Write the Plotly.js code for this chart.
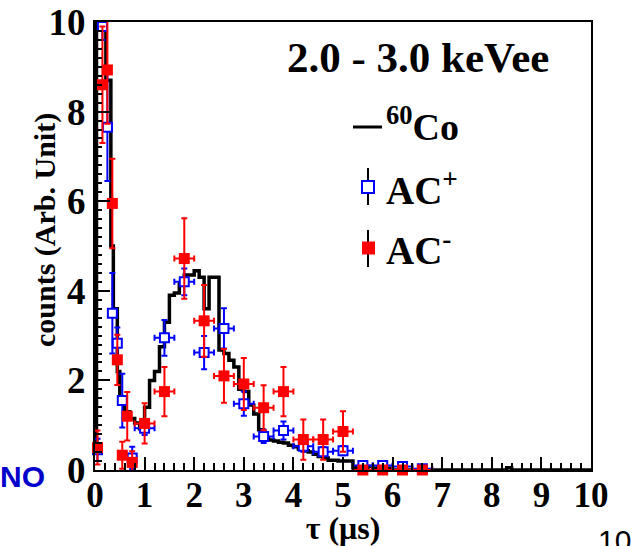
<!DOCTYPE html>
<html>
<head>
<meta charset="utf-8">
<script src="https://cdn.plot.ly/plotly-3.0.1.min.js"></script>
<style>html,body{margin:0;padding:0;background:#fff;}#chart{width:633px;height:546px;}</style>
</head>
<body>
<div id="chart"></div>
<script>
// ---- 60Co reference histogram (bin edges, counts per bin) ----
const histEdges = [0, 0.03, 0.12, 0.22, 0.32, 0.37, 0.45, 0.5, 0.6, 0.7, 0.8, 0.9, 1.0, 1.1, 1.2, 1.3, 1.4, 1.5, 1.6, 1.7, 1.8, 1.9, 2.0, 2.1, 2.2, 2.3, 2.4, 2.5, 2.6, 2.7, 2.8, 2.9, 3.0, 3.1, 3.2, 3.3, 3.4, 3.5, 3.6, 3.7, 3.8, 3.9, 4.0, 4.1, 4.2, 4.3, 4.4, 4.5, 4.6, 4.7, 4.8, 4.9, 5.0, 5.1, 5.2, 5.3, 5.4, 5.5, 5.6, 5.7, 5.8, 5.9, 6.0, 8.3, 8.4, 10];
const histCounts = [0.4, 12, 10.5, 8.7, 5.0, 3.6, 2.2, 1.5, 1.3, 1.15, 1.05, 0.92, 1.4, 2.0, 2.2, 2.75, 3.3, 3.9, 3.95, 4.15, 4.35, 4.35, 4.45, 4.3, 3.6, 4.3, 4.3, 2.68, 2.6, 2.45, 2.3, 1.8, 1.75, 1.45, 1.25, 0.9, 0.72, 0.67, 0.65, 0.62, 0.6, 0.55, 0.52, 0.47, 0.43, 0.4, 0.35, 0.3, 0.27, 0.22, 0.22, 0.2, 0.2, 0.2, 0.05, 0.08, 0.03, 0.08, 0.04, 0.06, 0.03, 0.04, 0, 0.05, 0];

// ---- AC+ (blue open squares) ----
const acPlusTau      = [0.05, 0.15, 0.25, 0.35, 0.45, 0.55, 0.75, 1.0, 1.4, 1.8, 2.2, 2.6, 3.0, 3.4, 3.8, 4.2, 4.6, 5.0, 5.4, 5.8, 6.2, 6.6];
const acPlusCounts   = [0.45, 9.9, 7.65, 3.5, 2.83, 1.55, 0.27, 0.93, 2.95, 4.2, 2.62, 3.16, 1.48, 0.75, 0.88, 0.53, 0.41, 0.43, 0.1, 0.1, 0.08, 0.03];
const acPlusErr      = [0.25, 0.3, 1.2, 0.9, 0.35, 0.6, 0.25, 0.15, 0.4, 0.3, 0.37, 0.45, 0.27, 0.15, 0.2, 0.12, 0.1, 0.1, 0.05, 0.05, 0.05, 0.03];
const acPlusTauErr   = [0.05, 0.05, 0.05, 0.05, 0.05, 0.05, 0.05, 0.2, 0.2, 0.2, 0.2, 0.2, 0.2, 0.2, 0.2, 0.2, 0.2, 0.2, 0.2, 0.2, 0.2, 0.2];

// ---- AC- (red filled squares) ----
const acMinusTau     = [0.05, 0.15, 0.25, 0.35, 0.45, 0.55, 0.65, 0.75, 1.0, 1.4, 1.8, 2.2, 2.6, 3.0, 3.4, 3.8, 4.2, 4.6, 5.0, 5.4, 5.8, 6.2, 6.6];
const acMinusCounts  = [0.5, 8.6, 8.93, 5.95, 2.46, 0.33, 1.2, 0.17, 1.04, 1.75, 4.72, 3.33, 2.1, 1.92, 1.39, 1.75, 0.68, 0.68, 0.86, 0, 0, 0, 0];
const acMinusErr     = [0.38, 1.3, 1.2, 1.0, 0.56, 0.3, 0.54, 0.25, 0.45, 0.55, 0.9, 0.8, 0.6, 0.58, 0.5, 0.55, 0.45, 0.45, 0.45, 0, 0, 0, 0];
const acMinusTauErr  = [0.05, 0.05, 0.05, 0.05, 0.05, 0.05, 0.05, 0.05, 0.2, 0.2, 0.2, 0.2, 0.2, 0.2, 0.2, 0.2, 0.2, 0.2, 0.2, 0.2, 0.2, 0.2, 0.2];

// ---- texts ----
const xTitle = 'τ (μs)';
const yTitle = 'counts (Arb. Unit)';
const energyLabel = '2.0 - 3.0 keVee';
const seriesNames = ['<sup>60</sup>Co', 'AC<sup>+</sup>', 'AC<sup>-</sup>'];

const serif = 'Liberation Serif, Times New Roman, serif';
const BLUE = '#0000ff', RED = '#ff0000';

const histTrace = {
  type: 'scatter', mode: 'lines', name: '60Co',
  x: histEdges,
  y: histCounts.concat([histCounts[histCounts.length - 1]]),
  line: {shape: 'hv', color: 'black', width: 3.5},
  cliponaxis: true, hoverinfo: 'skip', showlegend: false
};
const plusTrace = {
  type: 'scatter', mode: 'markers', name: 'AC+',
  x: acPlusTau, y: acPlusCounts,
  error_y: {type: 'data', array: acPlusErr, color: BLUE, thickness: 2, width: 3},
  error_x: {type: 'data', array: acPlusTauErr, color: BLUE, thickness: 2, width: 3},
  marker: {symbol: 'square', size: 9, color: 'white', line: {color: BLUE, width: 2}},
  cliponaxis: false, showlegend: false
};
const minusTrace = {
  type: 'scatter', mode: 'markers', name: 'AC-',
  x: acMinusTau, y: acMinusCounts,
  error_y: {type: 'data', array: acMinusErr, color: RED, thickness: 2, width: 3},
  error_x: {type: 'data', array: acMinusTauErr, color: RED, thickness: 2, width: 3},
  marker: {symbol: 'square', size: 11, color: RED, line: {width: 0}},
  cliponaxis: false, showlegend: false
};

// paper-coordinate helpers for the legend block (plot area: 496 x 448 px)
const L = 95, T = 22, W = 496, H = 448;
const px = v => (v - L) / W;
const py = v => (T + H - v) / H;

const layout = {
  width: 633, height: 546,
  margin: {l: 95, r: 42, t: 22, b: 76, pad: 0},
  paper_bgcolor: 'white', plot_bgcolor: 'white',
  showlegend: false,
  xaxis: {
    range: [0, 10], tickmode: 'linear', tick0: 0, dtick: 1,
    showline: true, mirror: true, linecolor: 'black', linewidth: 2,
    ticks: 'inside', ticklen: 13, tickwidth: 2, tickcolor: 'black',
    minor: {ticks: 'inside', ticklen: 7, tickwidth: 2, tickcolor: 'black', dtick: 0.2, showgrid: false},
    showgrid: false, zeroline: false, ticklabelstandoff: -7,
    tickfont: {family: serif, size: 35, weight: 'bold', color: 'black'},
    title: {text: xTitle, font: {family: serif, size: 32, weight: 'bold', color: 'black'}, standoff: 6}
  },
  yaxis: {
    range: [0, 10], tickmode: 'linear', tick0: 0, dtick: 2,
    showline: true, mirror: true, linecolor: 'black', linewidth: 2,
    ticks: 'inside', ticklen: 15, tickwidth: 2, tickcolor: 'black',
    minor: {ticks: 'inside', ticklen: 7, tickwidth: 2, tickcolor: 'black', dtick: 0.2, showgrid: false},
    showgrid: false, zeroline: false,
    tickfont: {family: serif, size: 37, weight: 'bold', color: 'black'}
  },
  annotations: [
    {xref: 'paper', yref: 'paper', x: px(45), y: py(230), xanchor: 'center', yanchor: 'middle',
     text: yTitle, textangle: -90, showarrow: false,
     font: {family: serif, size: 30, weight: 'bold', color: 'black'}},
    {xref: 'paper', yref: 'paper', x: px(285), y: py(57), xanchor: 'left', yanchor: 'middle',
     text: energyLabel, showarrow: false,
     font: {family: serif, size: 43, weight: 'bold', color: 'black'}},
    {xref: 'paper', yref: 'paper', x: px(384), y: py(124), xanchor: 'left', yanchor: 'middle',
     text: seriesNames[0], showarrow: false,
     font: {family: serif, size: 38, weight: 'bold', color: 'black'}},
    {xref: 'paper', yref: 'paper', x: px(384), y: py(188), xanchor: 'left', yanchor: 'middle',
     text: seriesNames[1], showarrow: false,
     font: {family: serif, size: 39, weight: 'bold', color: 'black'}},
    {xref: 'paper', yref: 'paper', x: px(384), y: py(248), xanchor: 'left', yanchor: 'middle',
     text: seriesNames[2], showarrow: false,
     font: {family: serif, size: 39, weight: 'bold', color: 'black'}},
    {xref: 'paper', yref: 'paper', x: px(-2), y: py(476), xanchor: 'left', yanchor: 'middle',
     text: 'NO', showarrow: false,
     font: {family: 'Liberation Sans, Arial, sans-serif', size: 30, weight: 'bold', color: '#0000cc'}},
    {xref: 'paper', yref: 'paper', x: px(596), y: py(540), xanchor: 'left', yanchor: 'middle',
     text: '10', showarrow: false,
     font: {family: 'Liberation Sans, Arial, sans-serif', size: 30, color: 'black'}}
  ],
  shapes: [
    // 60Co legend line
    {type: 'line', xref: 'paper', yref: 'paper', x0: px(353), x1: px(382), y0: py(127), y1: py(127),
     line: {color: 'black', width: 3}},
    // AC+ legend symbol
    {type: 'line', xref: 'paper', yref: 'paper', x0: px(368), x1: px(368), y0: py(168), y1: py(205),
     line: {color: 'black', width: 2}},
    {type: 'rect', xref: 'paper', yref: 'paper', x0: px(362), x1: px(374), y0: py(181), y1: py(193),
     line: {color: BLUE, width: 2}, fillcolor: 'white'},
    // AC- legend symbol
    {type: 'line', xref: 'paper', yref: 'paper', x0: px(368), x1: px(368), y0: py(230), y1: py(267),
     line: {color: 'black', width: 2}},
    {type: 'rect', xref: 'paper', yref: 'paper', x0: px(362), x1: px(375), y0: py(241.5), y1: py(254.5),
     line: {color: RED, width: 0}, fillcolor: RED}
  ]
};

Plotly.newPlot('chart', [histTrace, plusTrace, minusTrace], layout, {staticPlot: true, displayModeBar: false});
</script>
</body>
</html>
